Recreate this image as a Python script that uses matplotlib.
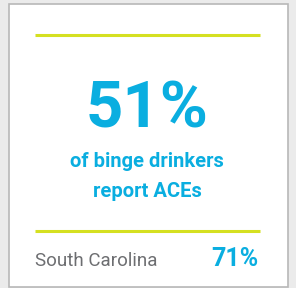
import matplotlib
matplotlib.use("Agg")
import matplotlib.pyplot as plt
from matplotlib.patches import Rectangle

# card content
headline_pct = 51
caption_lines = ["of binge drinkers", "report ACEs"]
state_name = "South Carolina"
state_pct = 71

BLUE = "#0aaee0"
GREEN = "#d5e021"
GRAY = "#6d6e71"

plt.rcParams['font.family'] = ['Roboto', 'DejaVu Sans']

fig = plt.figure(figsize=(2.96, 2.88), dpi=100, facecolor="#ebebeb")
ax = fig.add_axes([0, 0, 1, 1])
ax.set_xlim(0, 296)
ax.set_ylim(288, 0)
ax.axis("off")

# card
ax.add_patch(Rectangle((8.5, 3.5), 279.5, 283, facecolor="white",
                       edgecolor="#b8b8b8", linewidth=1.2))

# divider lines
ax.hlines([35, 231], 35, 260, color=GREEN, linewidth=2.2)

ax.text(147, 128, f"{headline_pct}%", color=BLUE, fontsize=47,
        fontweight="bold", ha="center", va="baseline")
for i, line in enumerate(caption_lines):
    ax.text(147, 167 + i * 30, line, color=BLUE, fontsize=14.5,
            fontweight="bold", ha="center", va="baseline")

ax.text(35, 266, state_name, color=GRAY, fontsize=13.5, ha="left", va="baseline")
ax.text(259, 266, f"{state_pct}%", color=BLUE, fontsize=18,
        fontweight="bold", ha="right", va="baseline")

fig.savefig("out.png", dpi=100, facecolor=fig.get_facecolor())
